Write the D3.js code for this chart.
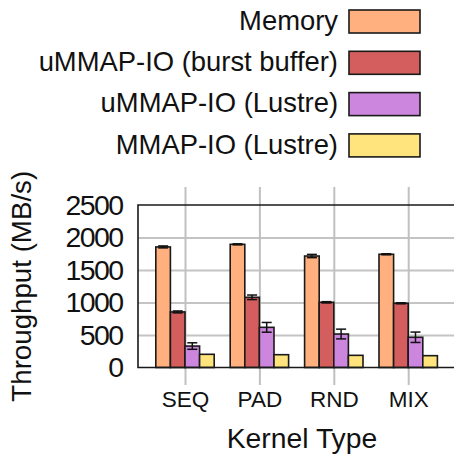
<!DOCTYPE html>
<html>
<head>
<meta charset="utf-8">
<script src="https://cdn.jsdelivr.net/npm/d3@7"></script>
<style>
  html, body { margin: 0; padding: 0; background: #fff; }
  svg { display: block; font-family: "Liberation Sans", Arial, sans-serif; }
</style>
</head>
<body>
<svg id="chart" width="454" height="455"></svg>
<script>
// Kernel types on the x axis
const categories = ["SEQ", "PAD", "RND", "MIX"];
// Storage back-ends (legend order)
const seriesNames = ["Memory", "uMMAP-IO (burst buffer)", "uMMAP-IO (Lustre)", "MMAP-IO (Lustre)"];
const seriesColors = ["#ffb07e", "#d45e5e", "#cc86dd", "#ffe47e"];
// Mean throughput (MB/s), one array per back-end, in category order
const memory      = [1855, 1895, 1715, 1742];
const ummapBurst  = [855, 1080, 1003, 988];
const ummapLustre = [330, 618, 515, 465];
const mmapLustre  = [203, 197, 187, 182];
// Standard deviation (MB/s)
const memoryErr      = [15, 8, 25, 8];
const ummapBurstErr  = [15, 35, 10, 8];
const ummapLustreErr = [50, 75, 75, 80];
const mmapLustreErr  = [0, 0, 0, 0];
const yTicks = [0, 500, 1000, 1500, 2000, 2500];

const values = [memory, ummapBurst, ummapLustre, mmapLustre];
const errors = [memoryErr, ummapBurstErr, ummapLustreErr, mmapLustreErr];

const svg = d3.select("#chart");
const plot = { left: 138, right: 454, top: 205, bottom: 367.5 };

const y = d3.scaleLinear().domain([0, 2500]).range([plot.bottom, plot.top]);
const x0 = d3.scalePoint().domain(categories).range([185, 408.2]);
const x1 = d3.scaleBand().domain(seriesNames).range([-29.2, 29.2]).padding(0);

// Horizontal grid lines
const yGrid = svg.append("g")
  .attr("transform", `translate(${plot.left},0)`)
  .call(d3.axisRight(y).tickValues(yTicks.slice(1, -1)).tickSize(plot.right - plot.left).tickFormat(""));
yGrid.select(".domain").remove();
yGrid.selectAll("line").attr("stroke", "#c4c4c4").attr("stroke-width", 2);

// Vertical grid lines through the category centres, running past the axis as ticks
const xGrid = svg.append("g")
  .attr("transform", `translate(0,${plot.bottom})`)
  .call(d3.axisBottom(x0).tickSize(0).tickFormat(""));
xGrid.select(".domain").remove();
xGrid.selectAll(".tick line")
  .attr("y1", 187 - plot.bottom).attr("y2", 17.5)
  .attr("stroke", "#c0c0c0").attr("stroke-width", 2);

// Bars
const groups = svg.append("g").selectAll("g")
  .data(categories)
  .join("g")
  .attr("transform", d => `translate(${x0(d)},0)`);

groups.selectAll("rect")
  .data((c, ci) => seriesNames.map((s, si) => ({ s, si, v: values[si][ci], e: errors[si][ci] })))
  .join("rect")
  .attr("x", d => x1(d.s))
  .attr("width", x1.bandwidth())
  .attr("y", d => y(d.v))
  .attr("height", d => y(0) - y(d.v))
  .attr("fill", d => seriesColors[d.si])
  .attr("stroke", "#1a1a1a")
  .attr("stroke-width", 1.6);

// Error bars
const eb = groups.selectAll("g.err")
  .data((c, ci) => seriesNames.map((s, si) => ({ s, v: values[si][ci], e: errors[si][ci] })).filter(d => d.e > 0))
  .join("g").attr("class", "err")
  .attr("stroke", "#111").attr("stroke-width", 1.5);
eb.append("line")
  .attr("x1", d => x1(d.s) + x1.bandwidth() / 2).attr("x2", d => x1(d.s) + x1.bandwidth() / 2)
  .attr("y1", d => y(d.v - d.e)).attr("y2", d => y(d.v + d.e));
[-1, 1].forEach(sign => {
  eb.append("line")
    .attr("x1", d => x1(d.s) + x1.bandwidth() / 2 - 5).attr("x2", d => x1(d.s) + x1.bandwidth() / 2 + 5)
    .attr("y1", d => y(d.v + sign * d.e)).attr("y2", d => y(d.v + sign * d.e));
});

// Plot frame: left, top and bottom edges
const frame = svg.append("g").attr("stroke", "#1a1a1a").attr("stroke-width", 1.6).attr("fill", "none");
frame.append("path")
  .attr("d", `M${plot.right},${plot.top}H${plot.left}V${plot.bottom}H${plot.right}`);

// Y axis labels
const yAxis = svg.append("g")
  .attr("transform", `translate(${plot.left},0)`)
  .call(d3.axisLeft(y).tickValues(yTicks).tickSize(0).tickPadding(15.5).tickFormat(d3.format("d")));
yAxis.select(".domain").remove();
yAxis.selectAll("text")
  .attr("font-family", "'Liberation Sans', Arial, sans-serif")
  .attr("font-size", 28.5)
  .attr("letter-spacing", "-1.6px")
  .attr("fill", "#111")
  .attr("dy", "0.32em");

// X axis labels
const xAxis = svg.append("g")
  .attr("transform", `translate(0,${plot.bottom})`)
  .call(d3.axisBottom(x0).tickSize(0).tickFormat(d => d));
xAxis.select(".domain").remove();
xAxis.selectAll("text")
  .attr("font-family", "'Liberation Sans', Arial, sans-serif")
  .attr("font-size", 22.5)
  .attr("fill", "#111")
  .attr("y", 39).attr("dy", 0);

// Axis titles
svg.append("text")
  .attr("x", 302).attr("y", 448)
  .attr("text-anchor", "middle")
  .attr("font-size", 28.3).attr("fill", "#111")
  .text("Kernel Type");

svg.append("text")
  .attr("transform", `translate(31,${(plot.top + plot.bottom) / 2}) rotate(-90)`)
  .attr("text-anchor", "middle")
  .attr("font-size", 27.7).attr("fill", "#111")
  .text("Throughput (MB/s)");

// Legend
const legend = svg.append("g").selectAll("g")
  .data(seriesNames)
  .join("g")
  .attr("transform", (d, i) => `translate(0,${10 + i * 41.3})`);
legend.append("rect")
  .attr("x", 349).attr("y", 0).attr("width", 71).attr("height", 23)
  .attr("fill", (d, i) => seriesColors[i])
  .attr("stroke", "#1a1a1a").attr("stroke-width", 1.6);
legend.append("text")
  .attr("x", 338).attr("y", 19.8)
  .attr("text-anchor", "end")
  .attr("font-size", 27.4).attr("fill", "#111")
  .text(d => d);
</script>
</body>
</html>
